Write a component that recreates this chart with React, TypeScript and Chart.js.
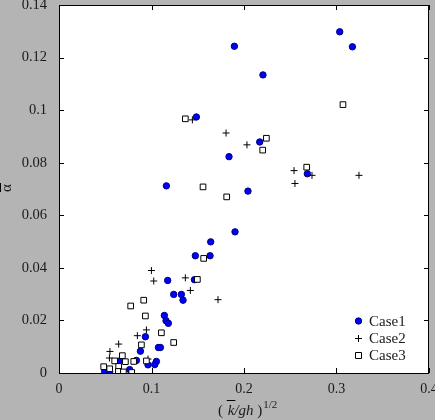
import { useEffect, useRef } from "react";
import { Chart, registerables } from "chart.js";

Chart.register(...registerables);

// values
const case1X = [0.1485, 0.1161, 0.1896, 0.3035, 0.3172, 0.2205, 0.217, 0.1838, 0.2685, 0.2043, 0.1903, 0.164, 0.1474, 0.1633, 0.1464, 0.1175, 0.124, 0.1323, 0.1341, 0.1139, 0.1157, 0.1182, 0.0934, 0.1075, 0.1096, 0.088, 0.0645, 0.0837, 0.1053, 0.0962, 0.1035, 0.0494, 0.0548, 0.0764];
const case1Y = [0.0974, 0.0712, 0.1243, 0.1298, 0.1241, 0.1134, 0.0879, 0.0823, 0.0758, 0.0692, 0.0537, 0.0499, 0.0446, 0.0446, 0.0355, 0.0352, 0.0299, 0.0299, 0.0277, 0.0219, 0.0199, 0.0189, 0.0138, 0.0097, 0.0097, 0.0083, 0.0045, 0.0048, 0.0044, 0.0031, 0.0032, 0.0006, 0.0004, 0.0013];

const case2X = [0.1442, 0.1806, 0.2032, 0.2541, 0.2735, 0.3243, 0.2551, 0.1719, 0.0999, 0.1024, 0.1366, 0.142, 0.0847, 0.0945, 0.0645, 0.0551, 0.0545, 0.0962, 0.065];
const case2Y = [0.0963, 0.0913, 0.0868, 0.077, 0.0752, 0.0752, 0.0721, 0.0279, 0.039, 0.035, 0.0362, 0.0314, 0.0142, 0.0164, 0.011, 0.0082, 0.0057, 0.0053, 0.0003];

const case3X = [0.1366, 0.1557, 0.307, 0.2242, 0.2202, 0.2678, 0.1813, 0.1564, 0.1496, 0.0775, 0.0916, 0.0934, 0.1107, 0.124, 0.0891, 0.0685, 0.0602, 0.0718, 0.0808, 0.0945, 0.0483, 0.0548, 0.0645, 0.0642, 0.0696, 0.0786];
const case3Y = [0.0967, 0.0708, 0.1021, 0.0893, 0.0848, 0.0783, 0.067, 0.0436, 0.0356, 0.0255, 0.0277, 0.0217, 0.0153, 0.0116, 0.0107, 0.0066, 0.0046, 0.0043, 0.0044, 0.0046, 0.0024, 0.0016, 0.0025, 0.0006, 0.0004, 0.0002];

const seriesNames = ["Case1", "Case2", "Case3"];
const xTickLabels = ["0", "0.1", "0.2", "0.3", "0.4"];
const yTickLabels = ["0", "0.02", "0.04", "0.06", "0.08", "0.1", "0.12", "0.14"];

const FONT = "'Liberation Serif', 'Times New Roman', serif";
const INK = "#1a1a1a";

const toPoints = (xs: number[], ys: number[]) => xs.map((x, i) => ({ x, y: ys[i] }));

// white plot area, frame with inward ticks on all four sides, titles and legend
const decorPlugin = {
  id: "decor",
  beforeDraw(chart: any) {
    const { ctx, chartArea: a } = chart;
    ctx.save();
    ctx.fillStyle = "#ffffff";
    ctx.fillRect(a.left, a.top, a.right - a.left, a.bottom - a.top);
    ctx.restore();
  },
  afterDraw(chart: any) {
    const { ctx, chartArea: a, scales } = chart;
    const tl = 5;
    ctx.save();
    ctx.strokeStyle = "#000";
    ctx.lineWidth = 1;
    ctx.strokeRect(a.left + 0.5, a.top + 0.5, a.right - a.left - 1, a.bottom - a.top);
    ctx.beginPath();
    scales.x.ticks.forEach((t: any) => {
      const px = Math.round(scales.x.getPixelForValue(t.value)) + 0.5;
      ctx.moveTo(px, a.bottom);
      ctx.lineTo(px, a.bottom - tl);
      ctx.moveTo(px, a.top);
      ctx.lineTo(px, a.top + tl);
    });
    scales.y.ticks.forEach((t: any) => {
      const py = Math.round(scales.y.getPixelForValue(t.value)) + 0.5;
      ctx.moveTo(a.left, py);
      ctx.lineTo(a.left + tl, py);
      ctx.moveTo(a.right, py);
      ctx.lineTo(a.right - tl, py);
    });
    ctx.stroke();

    // x title: ( k̄/gh )^1/2
    ctx.fillStyle = INK;
    ctx.textBaseline = "alphabetic";
    ctx.textAlign = "left";
    let x = 218;
    const base = 415;
    ctx.font = `15px ${FONT}`;
    ctx.fillText("(", x, base);
    x += ctx.measureText("( ").width + 1;
    ctx.font = `italic 15px ${FONT}`;
    const kw = ctx.measureText("k").width;
    ctx.fillText("k", x, base);
    ctx.beginPath();
    ctx.moveTo(x - 1, 400.5);
    ctx.lineTo(x + kw + 1, 400.5);
    ctx.stroke();
    x += kw;
    ctx.fillText("/gh", x, base);
    x += ctx.measureText("/gh").width;
    ctx.font = `15px ${FONT}`;
    ctx.fillText(" )", x, base);
    x += ctx.measureText(" )").width + 1;
    ctx.font = `11px ${FONT}`;
    ctx.fillText("1/2", x, 408);

    // y title: rotated alpha with overline
    ctx.save();
    ctx.translate(11, 188);
    ctx.rotate(-Math.PI / 2);
    ctx.font = `15px ${FONT}`;
    ctx.textAlign = "center";
    ctx.fillText("α", 0, 0);
    ctx.beginPath();
    ctx.moveTo(-4, -10.5);
    ctx.lineTo(5, -10.5);
    ctx.stroke();
    ctx.restore();

    // legend
    const rows = [321, 338, 355];
    chart.data.datasets.forEach((ds: any, i: number) => {
      const cy = rows[i];
      ctx.save();
      ctx.lineWidth = 1;
      ctx.strokeStyle = ds.pointBorderColor;
      ctx.fillStyle = ds.pointBackgroundColor;
      ctx.beginPath();
      if (ds.pointStyle === "circle") {
        ctx.arc(358.5, cy, 3.2, 0, Math.PI * 2);
        ctx.fill();
        ctx.stroke();
      } else if (ds.pointStyle === "cross") {
        ctx.moveTo(355, cy + 0.5);
        ctx.lineTo(362, cy + 0.5);
        ctx.moveTo(358.5, cy - 3);
        ctx.lineTo(358.5, cy + 4);
        ctx.stroke();
      } else {
        ctx.rect(355.5, cy - 2.5, 6, 6);
        ctx.fill();
        ctx.stroke();
      }
      ctx.restore();
      ctx.fillStyle = INK;
      ctx.font = `15px ${FONT}`;
      ctx.textAlign = "left";
      ctx.textBaseline = "middle";
      ctx.fillText(ds.label, 369, cy + 1);
    });
    ctx.restore();
  },
};

function ScatterFigure() {
  const canvasRef = useRef<HTMLCanvasElement | null>(null);

  useEffect(() => {
    document.body.style.margin = "0";
    if (!canvasRef.current) return;

    const chart = new Chart(canvasRef.current, {
      type: "scatter",
      data: {
        datasets: [
          {
            label: seriesNames[0],
            data: toPoints(case1X, case1Y),
            pointStyle: "circle",
            pointRadius: 3.2,
            pointBorderWidth: 1,
            pointBackgroundColor: "#0000ff",
            pointBorderColor: "#00007a",
            order: 3,
          },
          {
            label: seriesNames[1],
            data: toPoints(case2X, case2Y),
            pointStyle: "cross",
            pointRadius: 3.5,
            pointBorderWidth: 1,
            pointBackgroundColor: "#000000",
            pointBorderColor: "#000000",
            order: 2,
          },
          {
            label: seriesNames[2],
            data: toPoints(case3X, case3Y),
            pointStyle: "rect",
            pointRadius: 4,
            pointBorderWidth: 1,
            pointBackgroundColor: "#ffffff",
            pointBorderColor: "#000000",
            order: 1,
          },
        ] as any,
      },
      options: {
        responsive: false,
        animation: false,
        layout: { padding: { top: 3, right: 6, left: 0, bottom: 0 } },
        plugins: {
          legend: { display: false },
          tooltip: { enabled: false },
        },
        scales: {
          x: {
            type: "linear",
            min: 0,
            max: 0.4,
            border: { display: false },
            grid: { display: false, drawTicks: false },
            ticks: {
              stepSize: 0.1,
              padding: 8,
              maxRotation: 0,
              color: INK,
              font: { family: FONT, size: 14 },
              callback: (_v: any, i: number) => xTickLabels[i],
            },
            afterFit: (s: any) => {
              s.height = 47;
              s.paddingLeft = 0;
              s.paddingRight = 0;
            },
          },
          y: {
            type: "linear",
            min: 0,
            max: 0.14,
            border: { display: false },
            grid: { display: false, drawTicks: false },
            ticks: {
              stepSize: 0.02,
              padding: 12,
              color: INK,
              font: { family: FONT, size: 14.5 },
              callback: (_v: any, i: number) => yTickLabels[i],
            },
            afterFit: (s: any) => {
              s.width = 59;
              s.paddingTop = 0;
              s.paddingBottom = 0;
            },
          },
        },
      },
      plugins: [decorPlugin],
    });

    return () => chart.destroy();
  }, []);

  return (
    <div style={{ position: "absolute", left: 0, top: 0, width: 435, height: 420, background: "#b4b4b4" }}>
      <canvas ref={canvasRef} width={435} height={420} style={{ display: "block" }} />
    </div>
  );
}

export default function App() {
  return <ScatterFigure />;
}
